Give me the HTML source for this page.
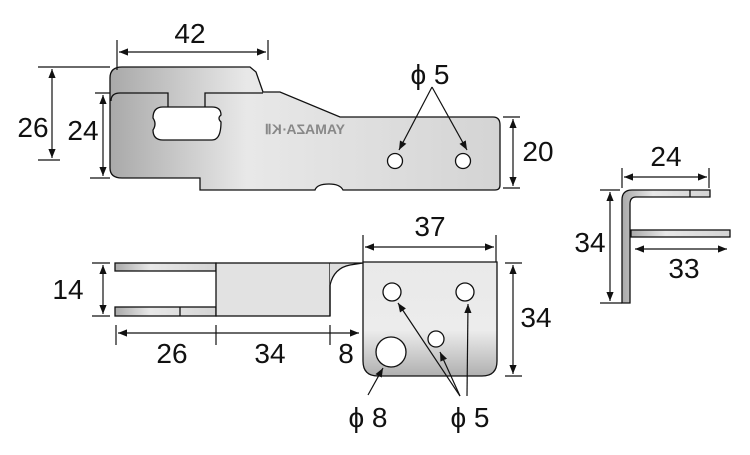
<!DOCTYPE html>
<html><head><meta charset="utf-8"><style>
html,body{margin:0;padding:0;background:#fff}
svg text{font-family:"Liberation Sans Narrow","Liberation Sans",sans-serif;font-size:28px;fill:#111}
</style></head><body>
<svg width="750" height="450" viewBox="0 0 750 450" xmlns="http://www.w3.org/2000/svg">
<defs>
<linearGradient id="g" x1="0" y1="0" x2="1" y2="0">
<stop offset="0" stop-color="#a9a9a9"/><stop offset="0.35" stop-color="#e8e8e8"/><stop offset="1" stop-color="#d4d4d4"/>
</linearGradient>
<linearGradient id="gv" x1="0" y1="0" x2="0" y2="1">
<stop offset="0" stop-color="#e9e9e9"/><stop offset="0.6" stop-color="#ececec"/><stop offset="1" stop-color="#b0b0b0"/>
</linearGradient>
<marker id="a" viewBox="0 0 10 10" refX="10" refY="5" markerWidth="9" markerHeight="9" orient="auto-start-reverse" markerUnits="userSpaceOnUse"><path d="M0,1 L10,5 L0,9 Z" fill="#111"/></marker>
</defs>
<g stroke="#111" stroke-width="1.3">
<path d="M122,67 L250,67 L256,72 L263,92 L280,92 L340,117 L493,117 Q500,117 500,125 L500,185 Q500,190 495,190 L343,190 Q340,184 329,184 Q317,184 315,190 L200,190 L200,178 L122,178 Q110,178 110,168 L110,78 Q110,67 122,67 Z" fill="url(#g)"/>
<path d="M111,101 Q111,93 120,93 L168,93 L168,107 M205,107 L205,93 L263,93" fill="none"/>
<path d="M163,107 L212,107 Q221,107 221,115 Q217,118 221,122 Q221,140 212,140 L163,140 Q153,140 153,130 Q157,124 153,118 Q153,107 163,107 Z" fill="#fff"/>
<circle cx="395" cy="161" r="7.5" fill="#fff"/><circle cx="463" cy="161" r="7.5" fill="#fff"/>
</g>
<text transform="translate(345,134) scale(-1,1)" style="font-size:14px;fill:#888;font-weight:bold">YAMAZA·KⅡ</text>
<g stroke="#111" stroke-width="1.3">
<rect x="115" y="263" width="101" height="8" fill="url(#g)"/>
<rect x="115" y="307" width="101" height="9" fill="url(#g)"/>
<line x1="180" y1="307" x2="180" y2="316"/>
<rect x="216" y="263" width="114" height="53" fill="#e2e2e2"/>
<path d="M330,316 L330,285 Q334,268 350,265 L363,263 L330,263" fill="#ddd"/>
<path d="M363,262 L497,262 L497,361 Q497,376 482,376 L378,376 Q363,376 363,361 Z" fill="url(#gv)"/>
<circle cx="392" cy="292" r="9" fill="#fff"/><circle cx="465" cy="292" r="9" fill="#fff"/>
<circle cx="436" cy="339" r="8" fill="#fff"/><circle cx="391" cy="352" r="15" fill="#fff"/>
<path d="M630,303 L622,303 L622,200 Q622,190 632,190 L710,190 L710,197 L636,197 Q630,197 630,204 Z" fill="url(#g)"/>
<line x1="690" y1="190" x2="690" y2="197"/>
<rect x="631" y="230" width="99" height="7" fill="url(#g)"/>
</g>
<g stroke="#111" stroke-width="1.2" fill="none">
<path d="M117,40 V70 M268,40 V60 M38,67 H110 M38,160 H60 M95,93 H110 M90,178 H110 M503,117 H520 M503,188 H520"/>
<line x1="119" y1="52" x2="266" y2="52" marker-start="url(#a)" marker-end="url(#a)"/>
<line x1="52" y1="69" x2="52" y2="158" marker-start="url(#a)" marker-end="url(#a)"/>
<line x1="103" y1="95" x2="103" y2="176" marker-start="url(#a)" marker-end="url(#a)"/>
<line x1="513" y1="119" x2="513" y2="186" marker-start="url(#a)" marker-end="url(#a)"/>
<line x1="432" y1="87" x2="399" y2="150" marker-end="url(#a)"/>
<line x1="432" y1="87" x2="467" y2="150" marker-end="url(#a)"/>
<path d="M92,263 H110 M92,316 H110 M116,325 V345 M216,325 V345 M330,325 V345 M363,235 V262 M496,235 V262 M505,263 H522 M505,376 H522"/>
<line x1="103" y1="265" x2="103" y2="314" marker-start="url(#a)" marker-end="url(#a)"/>
<line x1="118" y1="333" x2="359" y2="333" marker-start="url(#a)" marker-end="url(#a)"/>
<line x1="365" y1="247" x2="494" y2="247" marker-start="url(#a)" marker-end="url(#a)"/>
<line x1="513" y1="265" x2="513" y2="374" marker-start="url(#a)" marker-end="url(#a)"/>
<line x1="368" y1="395" x2="383" y2="368" marker-end="url(#a)"/>
<line x1="460" y1="396" x2="398" y2="303" marker-end="url(#a)"/>
<line x1="467" y1="396" x2="468" y2="304" marker-end="url(#a)"/>
<line x1="460" y1="396" x2="440" y2="352" marker-end="url(#a)"/>
<path d="M622,168 V188 M709,168 V188 M600,190 H620 M600,303 H622"/>
<line x1="624" y1="177" x2="707" y2="177" marker-start="url(#a)" marker-end="url(#a)"/>
<line x1="610" y1="192" x2="610" y2="301" marker-start="url(#a)" marker-end="url(#a)"/>
<line x1="635" y1="249" x2="727" y2="249" marker-start="url(#a)" marker-end="url(#a)"/>
</g>
<text x="190" y="43" text-anchor="middle">42</text>
<text x="33" y="137" text-anchor="middle">26</text>
<text x="83" y="140" text-anchor="middle">24</text>
<text x="538" y="161" text-anchor="middle">20</text>
<text x="430" y="84" text-anchor="middle">ϕ 5</text>
<text x="68" y="299" text-anchor="middle">14</text>
<text x="172" y="363" text-anchor="middle">26</text>
<text x="270" y="363" text-anchor="middle">34</text>
<text x="346" y="363" text-anchor="middle">8</text>
<text x="430" y="236" text-anchor="middle">37</text>
<text x="536" y="327" text-anchor="middle">34</text>
<text x="368" y="427" text-anchor="middle">ϕ 8</text>
<text x="470" y="427" text-anchor="middle">ϕ 5</text>
<text x="666" y="166" text-anchor="middle">24</text>
<text x="590" y="252" text-anchor="middle">34</text>
<text x="684" y="278" text-anchor="middle">33</text>
</svg>
</body></html>
